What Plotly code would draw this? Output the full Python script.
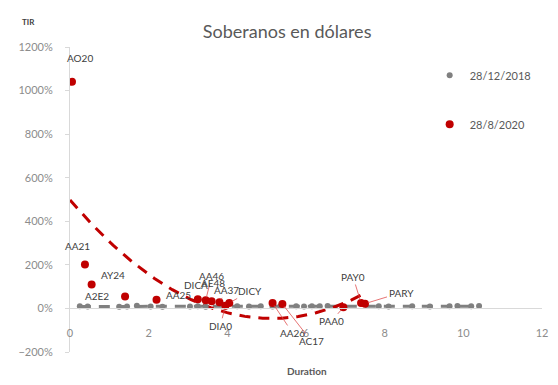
import numpy as np
import plotly.graph_objects as go

# --- Data -----------------------------------------------------------------
# 28/12/2018 curve (duration in years, TIR in %)
dur_2018 = [0.25, 0.45, 1.25, 1.45, 1.70, 2.05, 2.35, 3.05, 3.25, 3.45, 3.95,
            4.25, 4.55, 4.85, 5.15, 5.35, 5.75, 5.95, 6.15, 6.35, 6.55, 7.85,
            8.10, 8.70, 9.15, 9.65, 9.85, 10.20, 10.40]
tir_2018 = [10, 9, 8, 9, 12, 9, 8, 9, 10, 8, 9, 10, 9, 10, 9, 11, 10, 9, 10,
            10, 11, 10, 9, 10, 9, 10, 11, 10, 11]

# 28/8/2020 curve
bonds_2020 = ["AO20", "AA21", "AY24", "A2E2", "AA25", "DICA", "AA46", "AE48",
              "AA37", "DICY", "DIA0", "AA26", "AC17", "PAA0", "PAY0", "PARY"]
dur_2020 = [0.05, 0.38, 0.55, 1.40, 2.20, 3.25, 3.45, 3.60, 3.80, 4.05, 3.95,
            5.15, 5.40, 6.95, 7.40, 7.50]
tir_2020 = [1040, 202, 110, 55, 40, 42, 38, 33, 28, 25, 12, 25, 20, 5, 25, 22]

# label offsets in pixels (dx right, dy up) and whether a leader line is drawn
label_dx = [8, -7, 21, -28, 22, -2, 6, 1, 7, 21, -5, 20, 29, -12, -8, 36]
label_dy = [24, 18, 9, 0, 5, 14, 24, 18, 12, 12, -20, -30, -37, -14, 26, 11]
leader = [False, False, False, False, False, False, True, False, True, True,
          True, True, True, True, True, True]

GREY = "#808080"
RED = "#c00000"
TXT = "#595959"
FONT = "Lato"

fig = go.Figure()

# quadratic trend lines (least squares) for each curve
for xs, ys, col in [(dur_2018, tir_2018, GREY), (dur_2020, tir_2020, RED)]:
    coef = np.polyfit(xs, ys, 2)
    xt = np.linspace(min(xs), max(xs), 200) if col == GREY else np.linspace(0, max(xs), 200)
    fig.add_trace(go.Scatter(
        x=xt, y=np.polyval(coef, xt), mode="lines", showlegend=False,
        hoverinfo="skip",
        line=dict(color=col, width=3, dash="11px,8px")))

fig.add_trace(go.Scatter(
    x=dur_2018, y=tir_2018, mode="markers", name="28/12/2018",
    legendgroup="a",
    marker=dict(color=GREY, size=6)))
fig.add_trace(go.Scatter(
    x=dur_2020, y=tir_2020, mode="markers", name="28/8/2020",
    legendgroup="b",
    marker=dict(color=RED, size=8)))

for b, x, y, dx, dy, ld in zip(bonds_2020, dur_2020, tir_2020,
                               label_dx, label_dy, leader):
    if ld:
        fig.add_annotation(x=x, y=y, text=b, showarrow=True, ax=dx, ay=-dy,
                           arrowhead=0, arrowwidth=0.8, arrowcolor="#e05050",
                           standoff=3,
                           font=dict(family=FONT, size=10, color="#404040"))
    else:
        fig.add_annotation(x=x, y=y, text=b, showarrow=False,
                           xshift=dx, yshift=dy,
                           font=dict(family=FONT, size=10, color="#404040"))

fig.add_annotation(text="<b>TIR</b>", xref="paper", yref="paper",
                   x=-0.105, y=1.105, showarrow=False,
                   font=dict(family=FONT, size=8, color="#404040"))
fig.add_annotation(text="<b>Duration</b>", xref="paper", yref="paper",
                   x=0.502, y=-0.089, showarrow=False,
                   font=dict(family=FONT, size=10, color=TXT))

fig.update_layout(
    width=558, height=385,
    margin=dict(l=70, r=10, t=47, b=33),
    paper_bgcolor="white", plot_bgcolor="white",
    font=dict(family=FONT, color=TXT),
    title=dict(text="Soberanos en dólares", x=0.46, xref="paper",
               y=0.917, yanchor="middle", xanchor="center",
               font=dict(family=FONT, size=18, color=TXT)),
    legend=dict(x=0.762, y=0.955, xanchor="left", yanchor="top",
                tracegroupgap=30, itemwidth=30,
                font=dict(family=FONT, size=11, color=TXT),
                bgcolor="rgba(0,0,0,0)"),
    showlegend=True,
)
fig.update_xaxes(range=[0, 12], dtick=2, anchor="free", position=200 / 1400,
                 showline=True, linecolor="#d9d9d9", linewidth=1,
                 showgrid=False, zeroline=False, ticks="",
                 ticklabelstandoff=14,
                 tickfont=dict(family=FONT, size=11, color="#8c8c8c"))
fig.update_yaxes(range=[-200, 1200], dtick=200, ticksuffix="%",
                 showline=True, linecolor="#d9d9d9", linewidth=1,
                 showgrid=False, zeroline=False, ticks="outside",
                 ticklen=4, tickcolor="#d9d9d9", ticklabelstandoff=10,
                 tickfont=dict(family=FONT, size=11, color="#8c8c8c"))

fig.write_html("out.html")
